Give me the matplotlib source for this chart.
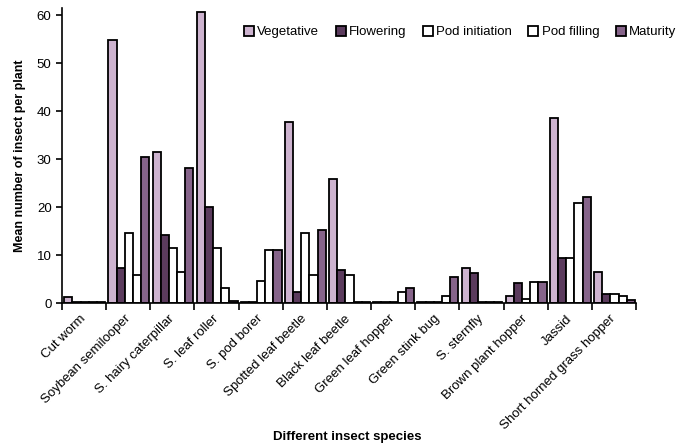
import matplotlib
matplotlib.use("Agg")
import matplotlib.pyplot as plt
import numpy as np

categories = ["Cut worm", "Soybean semilooper", "S. hairy caterpillar", "S. leaf roller",
              "S. pod borer", "Spotted leaf beetle", "Black leaf beetle", "Green leaf hopper",
              "Green stink bug", "S. sternfly", "Brown plant hopper", "Jassid",
              "Short horned grass hopper"]
series = ["Vegetative", "Flowering", "Pod initiation", "Pod filling", "Maturity"]

vegetative     = [1.3, 54.8, 31.5, 60.6, 0.3, 37.7, 25.8, 0.3, 0.3, 7.4, 1.5, 38.5, 6.4]
flowering      = [0.3, 7.3, 14.2, 20.0, 0.3, 2.3, 6.9, 0.3, 0.3, 6.2, 4.2, 9.3, 1.8]
pod_initiation = [0.3, 14.6, 11.4, 11.4, 4.5, 14.6, 5.8, 0.3, 0.3, 0.3, 0.8, 9.3, 1.8]
pod_filling    = [0.3, 5.8, 6.5, 3.2, 11.0, 5.8, 0.3, 2.2, 1.5, 0.3, 4.3, 20.8, 1.5]
maturity       = [0.3, 30.4, 28.2, 0.5, 11.0, 15.2, 0.3, 3.2, 5.4, 0.3, 4.3, 22.0, 0.7]

values = [vegetative, flowering, pod_initiation, pod_filling, maturity]
colors = ["#cdb3cf", "#5b3b5d", "white", "white", "#86648a"]

plt.rcParams['font.family'] = ['Liberation Sans', 'DejaVu Sans']

fig = plt.figure(figsize=(6.8, 4.47), dpi=100)
ax = fig.add_axes([62/680, 1-303/447, (636-62)/680, (303-8)/447])

n = len(categories)
x = np.arange(n)
w = 0.185
for j, (name, vals, col) in enumerate(zip(series, values, colors)):
    ax.bar(x + 0.05 + j*w, vals, width=w, align='edge', color=col,
           edgecolor='black', linewidth=1.3, label=name)

ax.set_xlim(0, n)
ax.set_ylim(0, 61.5)
ax.set_yticks([0, 10, 20, 30, 40, 50, 60])
ax.set_xticks(np.arange(n+1))
ax.set_xticklabels([])
ax.set_xticks(x + 0.5, minor=True)
ax.set_xticklabels(categories, minor=True, rotation=45, ha='right', va='center',
                   rotation_mode='anchor', fontsize=9.5)
ax.tick_params(axis='x', which='minor', length=0, pad=10)
ax.tick_params(axis='x', which='major', length=5, width=1.2, direction='out')
ax.tick_params(axis='y', length=4, width=1.2, direction='out', labelsize=9.5)
ax.spines['top'].set_visible(False)
ax.spines['right'].set_visible(False)
ax.spines['left'].set_linewidth(1.2)
ax.spines['bottom'].set_linewidth(1.2)

ax.set_ylabel("Mean number of insect per plant", fontsize=9, fontweight='bold', labelpad=8)
fig.text(347/680, 1-437/447, "Different insect species", fontsize=9.5, fontweight='bold',
         ha='center', va='center')

ax.legend(loc='upper left', bbox_to_anchor=(244/680, 1-26/447), bbox_transform=fig.transFigure,
          ncol=5, frameon=False, fontsize=9.5, handlelength=0.75, handleheight=0.75,
          handletextpad=0.25, columnspacing=1.25, borderaxespad=0, borderpad=0)

fig.savefig("out.png", dpi=100)
